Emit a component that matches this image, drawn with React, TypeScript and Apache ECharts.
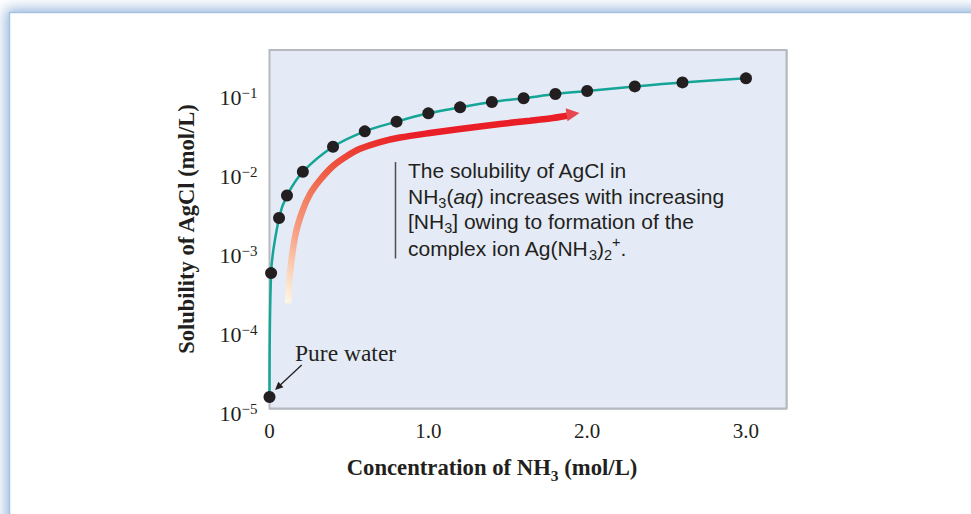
import React, { useEffect, useRef } from 'react';
import * as echarts from 'echarts';

// NH3 concentration (mol/L) and AgCl solubility (mol/L)
const xValues = [0, 0.01, 0.06, 0.11, 0.21, 0.4, 0.6, 0.8, 1.0, 1.2, 1.4, 1.6, 1.8, 2.0, 2.3, 2.6, 3.0];
const solubility = [1.4e-5, 5.2e-4, 2.6e-3, 5.0e-3, 1.0e-2, 0.0208, 0.0326, 0.0432, 0.0551, 0.0656, 0.0767, 0.0855, 0.0968, 0.1057, 0.121, 0.136, 0.153];

// Trend arrow path
const arrowX = [0.118, 0.129, 0.1605, 0.2046, 0.255, 0.318, 0.4, 0.488, 0.57, 0.696, 0.822, 1.01, 1.199, 1.451, 1.64, 1.785, 1.873];
const arrowSolubility = [2.15e-4, 5.17e-4, 1.5e-3, 3.09e-3, 5.23e-3, 7.87e-3, 0.01184, 0.01586, 0.01956, 0.02386, 0.02721, 0.03103, 0.03486, 0.04034, 0.04443, 0.04806, 0.05127];
const arrowHead = [1.911, 0.0543];

// Tick labels
const xTickLabels = ['0', '1.0', '2.0', '3.0'];
const yTickExponents = [-5, -4, -3, -2, -1];

const SERIF = '"Liberation Serif", "Times New Roman", Times, serif';
const SANS = '"Liberation Sans", Arial, Helvetica, sans-serif';
const INK = '#231f20';

export default function App() {
  const ref = useRef<HTMLDivElement>(null);

  useEffect(() => {
    if (!ref.current) return;
    const chart = echarts.init(ref.current, undefined, { renderer: 'svg' });

    const isInt = (v: number) => Math.abs(v - Math.round(v)) < 1e-9;

    const annoLine = (y: number, text: string) => ({
      type: 'text',
      x: 408,
      y,
      z: 10,
      style: {
        text,
        fontFamily: SANS,
        fontSize: 21,
        lineHeight: 22,
        fill: INK,
        align: 'left',
        verticalAlign: 'middle',
        rich: {
          sub: { fontSize: 14.5, lineHeight: 28, verticalAlign: 'bottom', fontFamily: SANS, fill: INK },
          sup: { fontSize: 14.5, lineHeight: 22, verticalAlign: 'top', fontFamily: SANS, fill: INK },
          i: { fontStyle: 'italic', fontSize: 21, lineHeight: 22, fontFamily: SANS, fill: INK },
        },
      },
    });

    const option: any = {
      animation: false,
      backgroundColor: '#ffffff',
      grid: {
        left: 269.5,
        top: 50,
        width: 517,
        height: 358.5,
        show: true,
        backgroundColor: '#e4ebf6',
        borderColor: '#b6b9bd',
        borderWidth: 2,
        z: 1,
      },
      xAxis: {
        type: 'value',
        min: 0,
        max: 3.255,
        interval: 1,
        axisLine: { show: false },
        axisTick: { show: false },
        splitLine: { show: true, lineStyle: { color: '#c3c6cb', width: 1.5 } },
        axisLabel: {
          margin: 12,
          fontFamily: SERIF,
          fontSize: 21,
          lineHeight: 21,
          color: INK,
          showMaxLabel: false,
          formatter: (v: number) => {
            if (!isInt(v)) return '';
            const s = xTickLabels[Math.round(v)];
            return s == null ? '' : s;
          },
        },
      },
      yAxis: {
        type: 'value',
        min: -5,
        max: -0.456,
        interval: 1,
        axisLine: { show: false },
        axisTick: { show: false },
        splitLine: { show: true, lineStyle: { color: '#c3c6cb', width: 1.5 } },
        axisLabel: {
          margin: 12,
          showMaxLabel: false,
          formatter: (v: number) => {
            if (!isInt(v)) return '';
            const e = Math.round(v);
            if (!yTickExponents.includes(e)) return '';
            return `{b|10}{s|${e < 0 ? '\u2212' : ''}${Math.abs(e)}}`;
          },
          rich: {
            b: { fontFamily: SERIF, fontSize: 22, lineHeight: 22, color: INK, padding: [9, 0, 0, 0] },
            s: { fontFamily: SERIF, fontSize: 15, lineHeight: 15, color: INK, verticalAlign: 'top', padding: [4, 0, 0, 0] },
          },
        },
      },
      series: [
        {
          type: 'line',
          data: arrowX.map((x, i) => [x, Math.log10(arrowSolubility[i])]),
          smooth: 0.3,
          symbol: 'none',
          z: 2,
          lineStyle: {
            width: 6.5,
            cap: 'butt',
            color: new echarts.graphic.LinearGradient(288, 303, 420, 135, [
              { offset: 0, color: '#fdf6e6' },
              { offset: 0.12, color: '#fbd5bb' },
              { offset: 0.27, color: '#f7a488' },
              { offset: 0.44, color: '#f27e62' },
              { offset: 0.6, color: '#ee5a42' },
              { offset: 0.8, color: '#ea3630' },
              { offset: 1, color: '#e91e26' },
            ], true),
          },
        },
        {
          type: 'scatter',
          data: [[arrowHead[0], Math.log10(arrowHead[1])]],
          symbol: 'triangle',
          symbolSize: [13, 13],
          symbolRotate: -82,
          itemStyle: { color: '#e91e26' },
          z: 2,
        },
        {
          type: 'line',
          data: xValues.map((x, i) => [x, Math.log10(solubility[i])]),
          smooth: 0.35,
          symbol: 'circle',
          symbolSize: 12,
          showAllSymbol: true,
          itemStyle: { color: INK, borderWidth: 0 },
          lineStyle: { color: '#14a596', width: 2.5 },
          z: 3,
        },
      ],
      graphic: [
        {
          type: 'rect',
          z: -100,
          shape: { x: 9.5, y: 12.5, width: 1000, height: 600 },
          style: {
            fill: '#ffffff',
            stroke: '#a7c3e3',
            lineWidth: 1.5,
            shadowBlur: 14,
            shadowColor: 'rgba(130,168,212,0.85)',
            shadowOffsetX: -3,
            shadowOffsetY: -3,
          },
        },
        {
          type: 'line',
          z: 10,
          shape: { x1: 395.5, y1: 162, x2: 395.5, y2: 258.5 },
          style: { stroke: '#4d4d4d', lineWidth: 1.5 },
        },
        annoLine(170.8, 'The solubility of AgCl in'),
        annoLine(196.1, 'NH{sub|3}({i|aq}) increases with increasing'),
        annoLine(221.1, '[NH{sub|3}] owing to formation of the'),
        annoLine(248.1, 'complex ion Ag(NH{sub|3}){sub|2}{sup|+}.'),
        {
          type: 'text',
          x: 295,
          y: 352.6,
          z: 10,
          style: {
            text: 'Pure water',
            fontFamily: SERIF,
            fontSize: 23.5,
            fill: INK,
            align: 'left',
            verticalAlign: 'middle',
          },
        },
        {
          type: 'line',
          z: 10,
          shape: { x1: 301.7, y1: 365, x2: 280, y2: 385.3 },
          style: { stroke: INK, lineWidth: 1.3 },
        },
        {
          type: 'polygon',
          z: 10,
          shape: { points: [[275, 390], [283.4, 387.3], [278.3, 381.8]] },
          style: { fill: INK },
        },
        {
          type: 'text',
          x: 186,
          y: 229,
          rotation: Math.PI / 2,
          z: 10,
          style: {
            text: 'Solubility of AgCl (mol/L)',
            fontFamily: SERIF,
            fontWeight: 'bold',
            fontSize: 22.5,
            fill: INK,
            align: 'center',
            verticalAlign: 'middle',
          },
        },
        {
          type: 'text',
          x: 492,
          y: 467.6,
          z: 10,
          style: {
            text: 'Concentration of NH{sub|3} (mol/L)',
            fontFamily: SERIF,
            fontWeight: 'bold',
            fontSize: 22.7,
            lineHeight: 24,
            fill: INK,
            align: 'center',
            verticalAlign: 'middle',
            rich: {
              sub: { fontFamily: SERIF, fontWeight: 'bold', fontSize: 15.5, lineHeight: 32, verticalAlign: 'bottom', fill: INK },
            },
          },
        },
      ],
    };

    chart.setOption(option);
    return () => chart.dispose();
  }, []);

  return (
    <div
      ref={ref}
      style={{ position: 'fixed', left: 0, top: 0, width: 971, height: 514 }}
    />
  );
}
